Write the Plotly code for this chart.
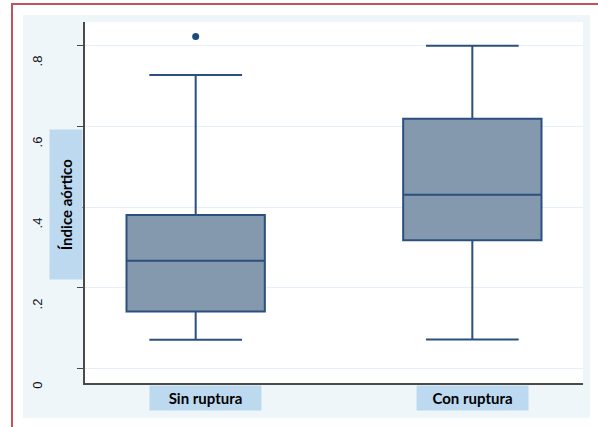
import plotly.graph_objects as go

# Aortic index by rupture status (precomputed box statistics)
groups = ["Sin ruptura", "Con ruptura"]
lower_fence = [0.072, 0.073]
q1 = [0.142, 0.318]
median = [0.267, 0.430]
q3 = [0.380, 0.618]
upper_fence = [0.726, 0.798]

outlier_group = ["Sin ruptura"]
outlier_value = [0.821]

y_ticks = [0, 0.2, 0.4, 0.6, 0.8]
y_tick_labels = ["0", ".2", ".4", ".6", ".8"]
y_title = "Índice aórtico"

BOX_FILL = "#8499ae"
BOX_LINE = "#2b4f7e"
LABEL_BOX = "#bcd9f0"
PANEL = "#eef6f9"
FRAME = "#c0545a"

label_font = dict(family="Lato", size=15, color="#000000", weight="bold")

fig = go.Figure()

fig.add_trace(go.Box(
    x=groups,
    q1=q1, median=median, q3=q3,
    lowerfence=lower_fence, upperfence=upper_fence,
    fillcolor=BOX_FILL,
    line=dict(color=BOX_LINE, width=2),
    width=0.5,
    whiskerwidth=0.67,
    boxpoints=False,
    showlegend=False,
    hoverinfo="skip",
))

fig.add_trace(go.Scatter(
    x=outlier_group, y=outlier_value,
    mode="markers",
    marker=dict(color="#1b4a7d", size=7),
    showlegend=False,
    hoverinfo="skip",
))

shapes = [
    # outer light panel
    dict(type="rect", xref="paper", yref="paper", layer="below",
         x0=-62/498, x1=505/498, y0=(383-418)/361, y1=(383-15)/361,
         fillcolor=PANEL, line=dict(width=0)),
    # white plot region
    dict(type="rect", xref="paper", yref="paper", layer="below",
         x0=0, x1=1, y0=0, y1=1,
         fillcolor="white", line=dict(width=0)),
    # red frame
    dict(type="rect", xref="paper", yref="paper", layer="above",
         x0=-73/498, x1=540/498, y0=-80/361, y1=(383-4)/361,
         fillcolor="rgba(0,0,0,0)", line=dict(color=FRAME, width=2)),
]

annotations = [
    dict(text=y_title, xref="paper", yref="paper",
         x=-19/498, y=(383-205)/361, textangle=-90, showarrow=False,
         font=label_font,
         bgcolor=LABEL_BOX, width=147, height=30,
         xanchor="center", yanchor="middle"),
    dict(text=groups[0], xref="x", yref="paper",
         x=groups[0], xshift=10, y=-15/361, showarrow=False,
         font=label_font,
         bgcolor=LABEL_BOX, width=109, height=22,
         xanchor="center", yanchor="middle"),
    dict(text=groups[1], xref="x", yref="paper",
         x=groups[1], y=-15/361, showarrow=False,
         font=label_font,
         bgcolor=LABEL_BOX, width=109, height=22,
         xanchor="center", yanchor="middle"),
]

fig.update_layout(
    width=598, height=427,
    margin=dict(l=85, r=15, t=22, b=44),
    paper_bgcolor="white",
    plot_bgcolor="white",
    shapes=shapes,
    annotations=annotations,
    xaxis=dict(
        type="category",
        range=[-0.4, 1.4],
        showticklabels=False,
        ticks="",
        showgrid=False,
        showline=True, linecolor="#4a4a4a", linewidth=1.5,
        zeroline=False,
        fixedrange=True,
    ),
    yaxis=dict(
        range=[-0.0346, 0.8568],
        tickvals=y_ticks,
        ticktext=y_tick_labels,
        tickangle=-90,
        ticks="outside", ticklen=6, tickcolor="#4a4a4a", tickwidth=1,
        ticklabelshift=18,
        ticklabelstandoff=30,
        tickfont=dict(family="Liberation Sans", size=13, color="#111111"),
        showgrid=True, gridcolor="#e4f0f6", gridwidth=1,
        showline=True, linecolor="#4a4a4a", linewidth=1.5,
        zeroline=False,
        fixedrange=True,
    ),
)

fig.write_html("out.html")
